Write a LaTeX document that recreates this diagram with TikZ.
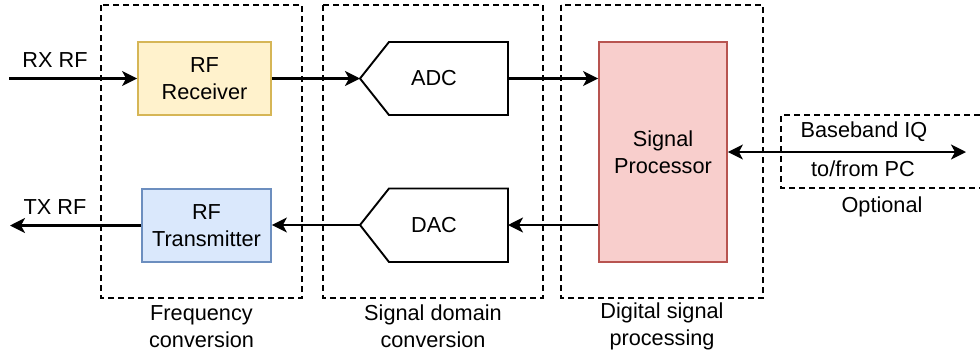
\documentclass[tikz,border=0pt]{standalone}
\usepackage{fontspec}
\setmainfont{Liberation Sans}
\usetikzlibrary{arrows.meta}
\definecolor{rxfill}{HTML}{FFF2CC}
\definecolor{rxline}{HTML}{D6B656}
\definecolor{txfill}{HTML}{DAE8FC}
\definecolor{txline}{HTML}{6C8EBF}
\definecolor{dspfill}{HTML}{F8CECC}
\definecolor{dspline}{HTML}{B85450}
\begin{document}
\begin{tikzpicture}[x=1pt,y=-1pt,
  every node/.style={font=\fontsize{21.7}{27}\selectfont, align=center, inner sep=0pt},
  group/.style={draw, line width=1.8pt, dash pattern=on 6pt off 4pt},
  sig/.style={line width=2.1pt, -{Stealth[length=15pt,width=15pt,inset=4pt]}},
  bisig/.style={line width=2.1pt, {Stealth[length=15pt,width=15pt,inset=4pt]}-{Stealth[length=15pt,width=15pt,inset=4pt]}},
]
\clip (0,0) rectangle (980,354);
\fill[white] (0,0) rectangle (980,354);

% processing stages
\draw[group] (101,5) rectangle (302,298);
\draw[group] (323,5) rectangle (543,298);
\draw[group] (561,5) rectangle (763,298);
\node (lfreq) at (201.5,326.5) {Frequency\\conversion};
\node (lsig)  at (433,326.5) {Signal domain\\conversion};
\node (ldig)  at (662,326.5) {Digital signal\\processing};

% optional host link frame (open to the right)
\draw[group] (990,115) -- (781,115) -- (781,188) -- (990,188);

% RF blocks
\node[draw=rxline, fill=rxfill, line width=1.8pt, minimum width=133pt, minimum height=73pt] (rx) at (204.5,78.5) {RF\\Receiver};
\node[draw=txline, fill=txfill, line width=1.8pt, minimum width=129pt, minimum height=73pt] (tx) at (206.5,225.5) {RF\\Transmitter};

% converters
\draw[line width=1.9pt, fill=white] (360,78.5) -- (389,42) -- (508,42) -- (508,115) -- (389,115) -- cycle;
\coordinate (adcw) at (360,78.5);
\coordinate (adce) at (508,78.5);
\node (adc) at (434,78.5) {ADC};
\draw[line width=1.9pt, fill=white] (360,225) -- (389,188.5) -- (508,188.5) -- (508,262) -- (389,262) -- cycle;
\coordinate (dacw) at (360,225);
\coordinate (dace) at (508,225);
\node (dac) at (434,225) {DAC};

% signal processor
\node[draw=dspline, fill=dspfill, line width=1.8pt, minimum width=128pt, minimum height=220pt] (dsp) at (663,152) {Signal\\Processor};

% external ends
\coordinate (rxin) at (9,78.5);
\coordinate (txout) at (10,225.5);
\coordinate (pc) at (966,152);
\node (rxl) at (55,60) {RX RF};
\node (txl) at (55,207) {TX RF};
\node (bb) at (864,132) {Baseband IQ};
\node (tf) at (863,169) {to/from PC};
\node (opt) at (882,207) {Optional};

% signal flow
\draw[sig] (rxin) -- (rx.west);
\draw[sig] (rx.east) -- (adcw);
\draw[sig] (adce) -- (dsp.west |- adce);
\draw[sig] (dsp.west |- dace) -- (dace);
\draw[sig] (dacw) -- (tx.east |- dacw);
\draw[sig] (tx.west) -- (txout);
\draw[bisig] (dsp.east |- pc) -- (pc);
\end{tikzpicture}
\end{document}
